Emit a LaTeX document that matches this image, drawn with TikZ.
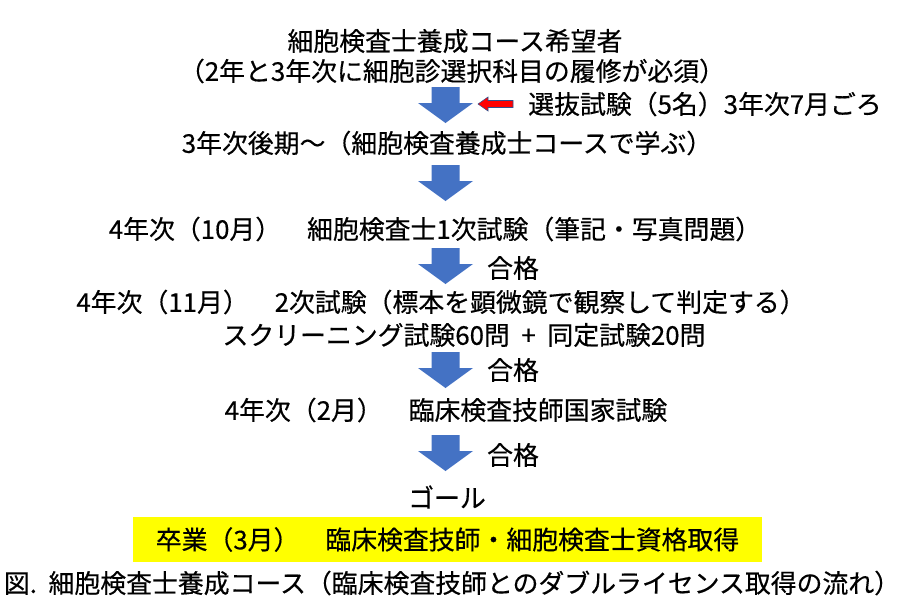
\documentclass[tikz,border=0pt]{standalone}
\usepackage{fontspec}
\setmainfont[FakeBold=0.4]{Noto Sans CJK JP}
\definecolor{flowblue}{HTML}{4472C4}
\definecolor{edgeblue}{HTML}{2F528F}
\definecolor{goalyellow}{HTML}{FFFF00}
\tikzset{
  txt/.style={font=\fontsize{19.4}{24}\selectfont, inner sep=0pt},
  goalbox/.style={txt, fill=goalyellow, minimum width=629*0.75pt, minimum height=45*0.75pt}
}
\begin{document}
\begin{tikzpicture}[x=0.75pt, y=-0.75pt]
  \useasboundingbox (0,0) rectangle (907,615);
  \draw
    (455,41) node[txt] (wish){細胞検査士養成コース希望者}
    (452,71) node[txt] (must){（2年と3年次に細胞診選択科目の履修が必須）}
    (705,104) node[txt] (select){選抜試験（5名）3年次7月ごろ}
    (447,143) node[txt] (course){3年次後期～（細胞検査養成士コースで学ぶ）}
    (435,229) node[txt] (first){4年次（10月）　細胞検査士1次試験（筆記・写真問題）}
    (513,268) node[txt] (passa){合格}
    (441,302) node[txt] (second){4年次（11月）　2次試験（標本を顕微鏡で観察して判定する）}
    (464,335) node[txt] (screen){スクリーニング試験60問\ \ +\ \ 同定試験20問}
    (513,370) node[txt] (passb){合格}
    (446,410) node[txt] (national){4年次（2月）　臨床検査技師国家試験}
    (513,455) node[txt] (passc){合格}
    (447,497) node[txt] (goal){ゴール}
    (447.5,539.5) node[goalbox] (grad){卒業（3月）　臨床検査技師・細胞検査士資格取得}
    (452,583) node[txt] (caption){図.\ \ 細胞検査士養成コース（臨床検査技師とのダブルライセンス取得の流れ）};
  % block arrows down the flow
  \foreach \y in {87,165,248,352,435}
    \fill[flowblue] (431.5,\y) -- (459.5,\y) -- (459.5,\y+16) -- (473,\y+16)
      -- (445.5,\y+36) -- (418,\y+16) -- (431.5,\y+16) -- cycle;
  % selection arrow
  \filldraw[fill=red, draw=edgeblue, line width=0.4pt]
    (478,104) -- (488,97) -- (488,100.5) -- (513,100.5) -- (513,107.5)
    -- (488,107.5) -- (488,111) -- cycle;
\end{tikzpicture}
\end{document}
